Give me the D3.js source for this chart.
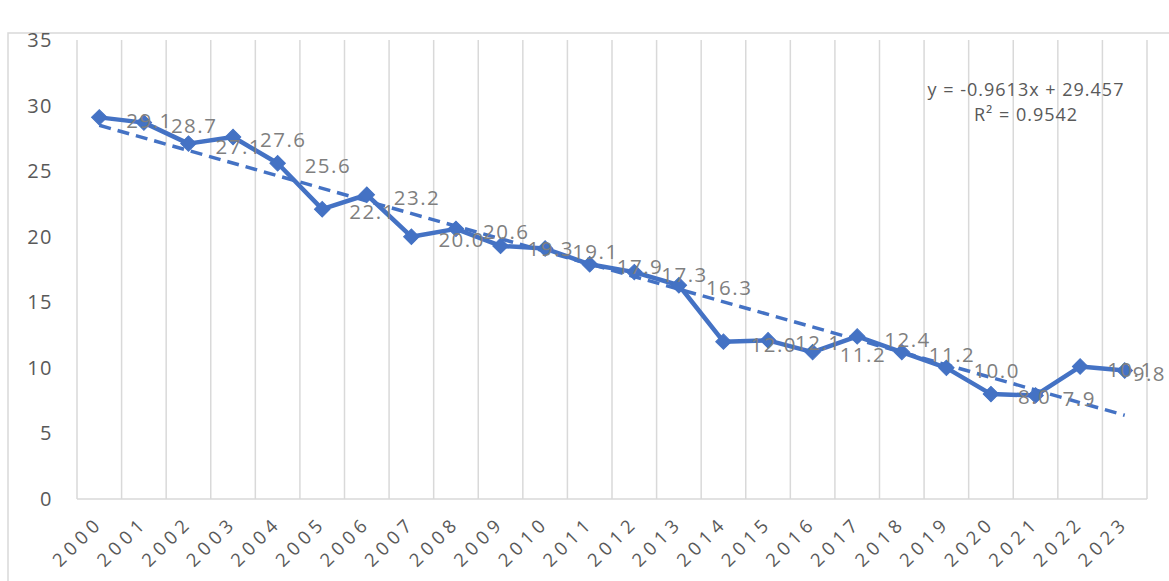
<!DOCTYPE html>
<html>
<head>
<meta charset="utf-8">
<script src="https://cdn.jsdelivr.net/npm/d3@7"></script>
<style>
  html, body { margin: 0; padding: 0; background: #fff; }
  svg { display: block; font-family: "Open Sans", sans-serif; }
  .tick-y { fill: #595959; font-size: 20px; letter-spacing: 1.5px; }
  .tick-x { fill: #595959; font-size: 18.5px; letter-spacing: 5px; }
  .data-label { fill: #7f7f7f; font-size: 20.5px; letter-spacing: 1.5px; }
  .eq-label { fill: #595959; font-size: 18px; letter-spacing: 1px; }
</style>
</head>
<body>
<svg id="chart" width="1169" height="581"></svg>
<script>
/* ---------- data ---------- */
const years = ["2000","2001","2002","2003","2004","2005","2006","2007","2008","2009","2010","2011",
               "2012","2013","2014","2015","2016","2017","2018","2019","2020","2021","2022","2023"];
const values = [29.1, 28.7, 27.1, 27.6, 25.6, 22.1, 23.2, 20.0, 20.6, 19.3, 19.1, 17.9,
                17.3, 16.3, 12.0, 12.1, 11.2, 12.4, 11.2, 10.0, 8.0, 7.9, 10.1, 9.8];
const yTicks = [0, 5, 10, 15, 20, 25, 30, 35];
const trendSlope = -0.9613, trendIntercept = 29.457;
const trendText = ["y = -0.9613x + 29.457", "R\u00B2 = 0.9542"];

/* ---------- layout ---------- */
const W = 1169;
const svg = d3.select("#chart");
const plot = { left: 77, right: 1147, top: 40, bottom: 499 };
const blue = "#4472C4", grid = "#d9d9d9";

const xBand = d3.scaleBand().domain(years).range([plot.left, plot.right]).paddingInner(0).paddingOuter(0);
const xc = d => xBand(d) + xBand.bandwidth() / 2;
const yScale = d3.scaleLinear().domain([0, 35]).range([plot.bottom, plot.top]);

// chart area border (only top/left edges fall inside the frame)
svg.append("rect")
  .attr("x", 8).attr("y", 33).attr("width", 1300).attr("height", 700)
  .attr("fill", "none").attr("stroke", grid).attr("stroke-width", 1.5);

/* ---------- gridlines & axes ---------- */
const bounds = years.map(d => xBand(d)).concat([plot.right]);
svg.append("g").selectAll("line").data(bounds).join("line")
  .attr("x1", d => d).attr("x2", d => d)
  .attr("y1", yScale(35)).attr("y2", plot.bottom)
  .attr("stroke", grid).attr("stroke-width", 1.5);

svg.append("line")
  .attr("x1", plot.left).attr("x2", plot.right)
  .attr("y1", plot.bottom).attr("y2", plot.bottom)
  .attr("stroke", grid).attr("stroke-width", 1.5);

svg.append("g").selectAll("text").data(yTicks).join("text")
  .attr("class", "tick-y")
  .attr("x", 53).attr("y", d => yScale(d))
  .attr("dy", "0.35em").attr("text-anchor", "end")
  .text(d => d);

svg.append("g").selectAll("text").data(years).join("text")
  .attr("class", "tick-x")
  .attr("transform", d => `translate(${xc(d) + 5},${plot.bottom + 25}) rotate(-45)`)
  .attr("text-anchor", "end")
  .text(d => d);

/* ---------- trendline ---------- */
const trendData = [0, years.length - 1].map(i => ({ year: years[i], v: trendSlope * (i + 1) + trendIntercept }));
svg.append("path")
  .datum(trendData)
  .attr("d", d3.line().x(d => xc(d.year)).y(d => yScale(d.v)))
  .attr("fill", "none").attr("stroke", blue).attr("stroke-width", 3.5)
  .attr("stroke-dasharray", "12,7");

/* ---------- series ---------- */
const series = years.map((y, i) => ({ year: y, v: values[i] }));
svg.append("path")
  .datum(series)
  .attr("d", d3.line().x(d => xc(d.year)).y(d => yScale(d.v)))
  .attr("fill", "none").attr("stroke", blue).attr("stroke-width", 4.5)
  .attr("stroke-linejoin", "round");

svg.append("g").selectAll("path").data(series).join("path")
  .attr("d", d3.symbol(d3.symbolSquare, 120))
  .attr("transform", d => `translate(${xc(d.year)},${yScale(d.v)}) rotate(45)`)
  .attr("fill", blue).attr("stroke", blue).attr("stroke-width", 1);

// labels sit right of each point; keep them inside the chart's right edge
svg.append("g").selectAll("text").data(series).join("text")
  .attr("class", "data-label")
  .attr("x", d => xc(d.year) + 27).attr("y", d => yScale(d.v) + 3)
  .attr("dy", "0.35em")
  .text(d => d.v.toFixed(1))
  .each(function () {
    const b = this.getBBox();
    if (b.x + b.width > W - 3) d3.select(this).attr("x", W - 3 - b.width);
  });

/* ---------- trendline equation ---------- */
svg.append("g").selectAll("text").data(trendText).join("text")
  .attr("class", "eq-label")
  .attr("x", 1026).attr("y", (d, i) => 90 + i * 25)
  .attr("dy", "0.35em").attr("text-anchor", "middle")
  .text(d => d);
</script>
</body>
</html>
